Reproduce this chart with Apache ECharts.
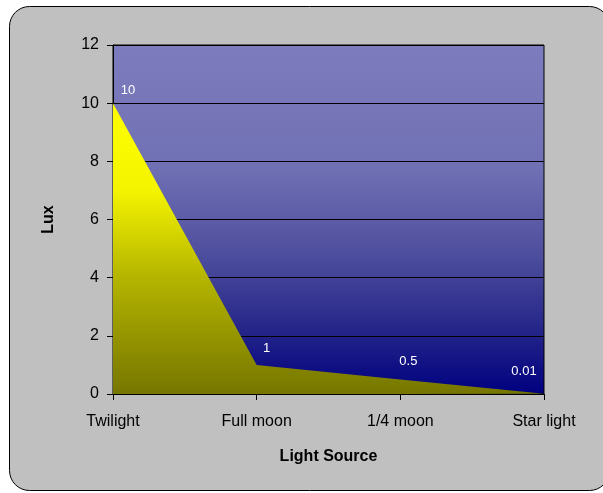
<!DOCTYPE html>
<html><head><meta charset="utf-8">
<script src="https://cdn.jsdelivr.net/npm/echarts@6/dist/echarts.min.js"></script>
<style>html,body{margin:0;padding:0;background:#fff}#c{width:603px;height:493px}</style>
</head><body><div id="c"></div>
<script>
var categories = ['Twilight', 'Full moon', '1/4 moon', 'Star light'];
var luxValues = [10, 1, 0.5, 0.01];
var yTicks = [0, 2, 4, 6, 8, 10, 12];

var labelOffsets = [[15, -1], [10, -4], [8, -6], [-20, -10]];
var font = '"Liberation Sans", Arial, sans-serif';

var chart = echarts.init(document.getElementById('c'));
chart.setOption({
  backgroundColor: '#ffffff',
  animation: false,
  graphic: [{
    type: 'rect', z: -10,
    shape: { x: 9.5, y: 6.5, width: 600, height: 484, r: 20 },
    style: { fill: '#c0c0c0', stroke: '#000000', lineWidth: 1 }
  }],
  grid: {
    left: 113, right: 59, top: 45, bottom: 99,
    show: true,
    borderColor: '#000000', borderWidth: 1,
    backgroundColor: new echarts.graphic.LinearGradient(0, 0, 0, 1, [
      { offset: 0, color: '#7c7cbe' },
      { offset: 0.35, color: '#7070b4' },
      { offset: 0.6, color: '#4e4e9e' },
      { offset: 0.8, color: '#28288a' },
      { offset: 1, color: '#000080' }
    ])
  },
  xAxis: {
    type: 'category', data: categories, boundaryGap: false,
    name: 'Light Source', nameLocation: 'middle', nameGap: 55,
    nameTextStyle: { fontFamily: font, fontSize: 16, fontWeight: 'bold', color: '#000' },
    axisLine: { lineStyle: { color: '#000', width: 1 } },
    axisTick: { show: true, length: 6, lineStyle: { color: '#000' } },
    axisLabel: { fontFamily: font, fontSize: 16, color: '#000', margin: 20 },
    splitLine: { show: false }
  },
  yAxis: {
    type: 'value', min: yTicks[0], max: yTicks[yTicks.length - 1], interval: 2,
    name: 'Lux', nameLocation: 'middle', nameGap: 56,
    nameTextStyle: { fontFamily: font, fontSize: 16, fontWeight: 'bold', color: '#000' },
    axisLine: { show: true, lineStyle: { color: '#000', width: 1 } },
    axisTick: { show: true, length: 6, lineStyle: { color: '#000' } },
    axisLabel: { fontFamily: font, fontSize: 16, color: '#000', margin: 14 },
    splitLine: { show: true, lineStyle: { color: '#000', width: 1 } }
  },
  series: [{
    type: 'line',
    data: luxValues.map(function (v, i) {
      return { value: v, label: { offset: labelOffsets[i] } };
    }),
    symbol: 'circle', symbolSize: 1, showSymbol: true,
    itemStyle: { color: 'rgba(0,0,0,0)' },
    lineStyle: { width: 0 },
    areaStyle: {
      opacity: 1,
      color: new echarts.graphic.LinearGradient(0, 0, 0, 1, [
        { offset: 0, color: '#ffff00' },
        { offset: 0.3, color: '#f4f400' },
        { offset: 0.6, color: '#b4b400' },
        { offset: 1, color: '#767600' }
      ])
    },
    label: {
      show: true, position: 'top', color: '#ffffff',
      fontFamily: font, fontSize: 13
    },
    z: 3
  }]
});
</script></body></html>
